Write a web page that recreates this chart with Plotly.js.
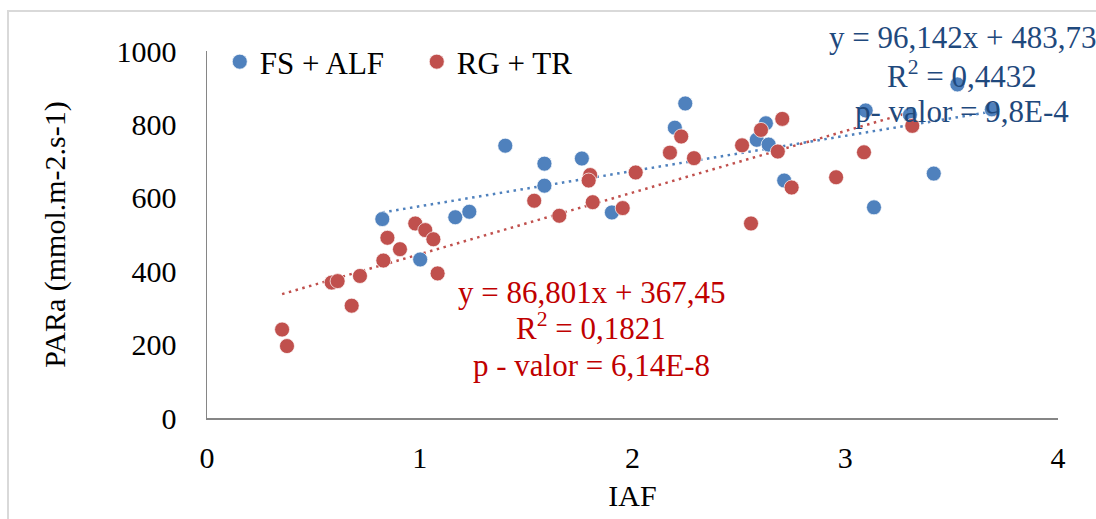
<!DOCTYPE html>
<html>
<head>
<meta charset="utf-8">
<script src="https://cdn.plot.ly/plotly-3.0.1.min.js"></script>
<style>
  html, body { margin: 0; padding: 0; background: #fff; }
  #wrap { position: relative; width: 1096px; height: 519px; overflow: hidden; }
  #chart { width: 1096px; height: 519px; }
  #frame { position: absolute; left: 7px; top: 10px; width: 1200px; height: 700px;
           border: 2px solid #d9d9d9; pointer-events: none; }
</style>
</head>
<body>
<div id="wrap"><div id="chart"></div><div id="frame"></div></div>
<script>
// ---- data ----
const seriesNames = ["FS + ALF", "RG + TR"];

const fsAlfX = [0.824, 1.002, 1.167, 1.233, 1.402, 1.586, 1.586, 1.762, 1.903, 2.199, 2.248,
                2.584, 2.627, 2.640, 2.713, 3.096, 3.135, 3.304, 3.416, 3.527, 3.689];
const fsAlfY = [542, 432, 547, 562, 742, 693, 633, 707, 560, 791, 857,
                758, 803, 745, 647, 838, 574, 826, 666, 909, 841];

const rgTrX = [0.353, 0.376, 0.586, 0.614, 0.680, 0.719, 0.829, 0.848, 0.907, 0.979, 1.026, 1.064, 1.084,
               1.538, 1.656, 1.801, 1.794, 1.813, 1.954, 2.015, 2.176, 2.229, 2.289, 2.515, 2.557,
               2.604, 2.683, 2.704, 2.748, 2.957, 3.088, 3.315];
const rgTrY = [241, 196, 369, 373, 306, 387, 429, 491, 460, 530, 512, 487, 394,
               592, 551, 662, 647, 588, 572, 669, 723, 767, 708, 743, 530,
               785, 726, 815, 628, 656, 724, 796];

const xTicks = [0, 1, 2, 3, 4];
const yTicks = [0, 200, 400, 600, 800, 1000];

const fsAlfLabel = ["y = 96,142x + 483,73", "R<sup>2</sup> = 0,4432", "p- valor = 9,8E-4"];
const rgTrLabel  = ["y = 86,801x + 367,45", "R<sup>2</sup> = 0,1821", "p - valor = 6,14E-8"];

const xTitle = "IAF";
const yTitle = "PARa (mmol.m-2.s-1)";

// ---- styling ----
const blue = "#4F81BD", red = "#C0504D";
const blueText = "#1F497D", redText = "#C00000";
const FONT = "Liberation Serif, Times New Roman, serif";

// least-squares linear fit (as the spreadsheet trendline)
function linFit(xs, ys) {
  const n = xs.length;
  const mx = xs.reduce((a, b) => a + b, 0) / n;
  const my = ys.reduce((a, b) => a + b, 0) / n;
  let sxy = 0, sxx = 0;
  for (let i = 0; i < n; i++) { sxy += (xs[i] - mx) * (ys[i] - my); sxx += (xs[i] - mx) ** 2; }
  const b = sxy / sxx, a = my - b * mx;
  const x0 = Math.min(...xs), x1 = Math.max(...xs);
  return { x: [x0, x1], y: [a + b * x0, a + b * x1] };
}
const fitBlue = linFit(fsAlfX, fsAlfY);
const fitRed = linFit(rgTrX, rgTrY);

const markerLine = { color: "rgba(255,255,255,0.7)", width: 1 };

const traces = [
  { x: fitBlue.x, y: fitBlue.y, mode: "lines", showlegend: false, hoverinfo: "skip",
    line: { color: blue, width: 2.5, dash: "2.5px,4.5px" } },
  { x: fitRed.x, y: fitRed.y, mode: "lines", showlegend: false, hoverinfo: "skip",
    line: { color: red, width: 2.5, dash: "2.5px,4.5px" } },
  { x: fsAlfX, y: fsAlfY, mode: "markers", name: seriesNames[0],
    marker: { color: blue, size: 15, line: markerLine } },
  { x: rgTrX, y: rgTrY, mode: "markers", name: seriesNames[1],
    marker: { color: red, size: 15, line: markerLine } }
];

// yp: vertical positions as fractions of the plot height (paper)
function block(lines, xc, yp, color) {
  return lines.map((t, i) => ({
    text: t, x: xc, y: yp[i], xref: "x", yref: "paper", showarrow: false,
    xanchor: "center", yanchor: "middle",
    font: { family: FONT, size: 31, color: color }
  }));
}

const annotations = [
  ...block(fsAlfLabel, 3.55, [1.037, 0.937, 0.836], blueText),
  ...block(rgTrLabel, 1.805, [0.343, 0.248, 0.144], redText)
];

const layout = {
  width: 1096, height: 519,
  margin: { l: 207, r: 38, t: 51, b: 101, pad: 0 },
  paper_bgcolor: "rgba(0,0,0,0)", plot_bgcolor: "#fff",
  font: { family: FONT, size: 30, color: "#000" },
  showlegend: true,
  legend: {
    orientation: "h", x: 0.015, xanchor: "left", y: 0.97, yanchor: "middle",
    font: { family: FONT, size: 31, color: "#000" },
    bgcolor: "rgba(0,0,0,0)", itemwidth: 30, tracegroupgap: 0,
    entrywidth: 152, entrywidthmode: "pixels"
  },
  xaxis: {
    range: [0, 4], tickvals: xTicks, ticktext: xTicks.map(String),
    showgrid: false, zeroline: false, showline: true, linecolor: "#868686", linewidth: 1.5,
    ticks: "", ticklabelstandoff: 12,
    tickfont: { family: FONT, size: 30, color: "#000" },
    title: { text: xTitle, standoff: 12, font: { family: FONT, size: 30, color: "#000" } }
  },
  yaxis: {
    range: [0, 1000], tickvals: yTicks, ticktext: yTicks.map(String),
    showgrid: false, zeroline: false, showline: true, linecolor: "#868686", linewidth: 1.5,
    ticks: "", ticklabelstandoff: 23,
    tickfont: { family: FONT, size: 30, color: "#000" },
    title: { text: yTitle, standoff: 42, font: { family: FONT, size: 30, color: "#000" } }
  },
  annotations: annotations
};

Plotly.newPlot("chart", traces, layout, { displayModeBar: false, staticPlot: true });
</script>
</body>
</html>
